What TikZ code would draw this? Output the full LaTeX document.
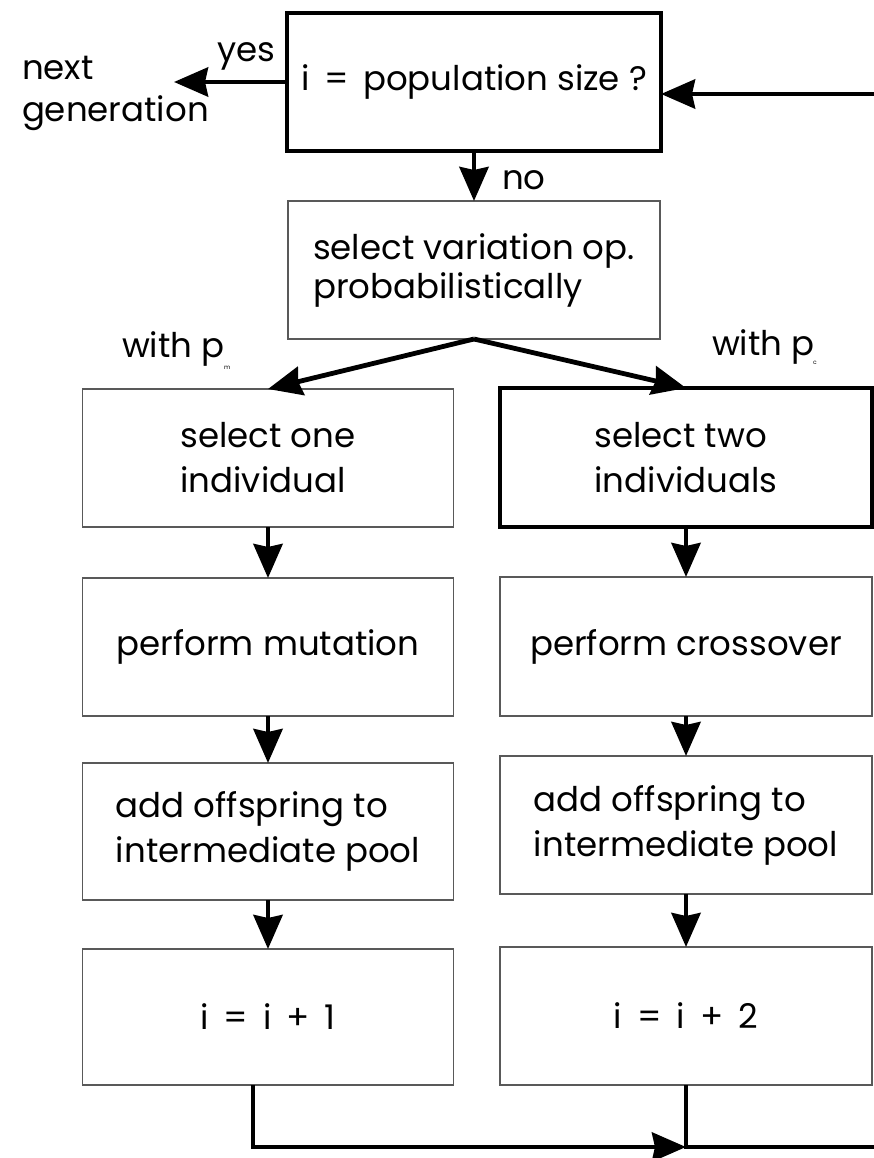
\documentclass[tikz,border=0pt]{standalone}
\usepackage{fontspec}
\setmainfont{Poppins}
\usetikzlibrary{arrows.meta}
\begin{document}
\begin{tikzpicture}[x=1pt,y=-1pt,
  every node/.style={inner sep=0pt, outer sep=0pt},
  txt/.style={font=\fontsize{34}{45}\selectfont, align=left},
  lbl/.style={font=\fontsize{34}{42}\selectfont, align=left, anchor=base west},
  sub/.style={font=\fontsize{6}{6}\selectfont, anchor=base west},
  thinbox/.style={txt, draw=black!65, line width=1.4pt, minimum width=371pt, minimum height=138pt},
  thickbox/.style={txt, draw=black, line width=4.6pt, minimum width=372pt, minimum height=138pt},
  conn/.style={line width=4.8pt, -{Stealth[length=34pt,width=29pt,inset=3pt]}},
  plain/.style={line width=4.8pt, line join=miter}
]
\fill[white] (0,0) rectangle (874,1158);
\useasboundingbox (0,0) rectangle (874,1158);

% boxes
\node[thickbox, minimum width=374pt] (t) at (474,82) {i\hspace{6pt} = \hspace{5pt}population size ?};
\node[thinbox, minimum width=372pt, font=\fontsize{34}{39}\selectfont] (v) at (474,270) {select variation op.\\probabilistically};
\node[thinbox] (l1) at (268,458) {select one\\individual};
\node[thinbox] (l2) at (268,647) {perform mutation};
\node[thinbox, minimum height=137pt] (l3) at (268,831.5) {add offspring to\\intermediate pool};
\node[thinbox, minimum height=136pt] (l4) at (268,1017) {i\hspace{6pt} = \hspace{6pt}i\hspace{6pt} + \hspace{6pt}1};
\node[thickbox, minimum height=139pt] (r1) at (686,457.5) {select two\\individuals};
\node[thinbox, minimum width=372pt, minimum height=139pt] (r2) at (686,646.5) {perform crossover};
\node[thinbox, minimum width=372pt] (r3) at (686,825) {add offspring to\\intermediate pool};
\node[thinbox, minimum width=372pt] (r4) at (686,1016) {i\hspace{6pt} = \hspace{6pt}i\hspace{6pt} + \hspace{6pt}2};

% labels
\node[lbl] (nx1) at (22,80) {next};
\node[lbl] (nx2) at (22,122) {generation};
\node[lbl] (yes) at (217,62) {yes};
\node[lbl] (no) at (502,190) {no};
\node[lbl] (wpm) at (122,357) {with p};
\node[sub] (pm) at (224,369) {m};
\node[lbl] (wpc) at (712,355) {with p};
\node[sub] (pc) at (813,364) {c};

% free ends
\coordinate (yestip) at (174,82);
\coordinate (loopin) at (880,94);
\coordinate (merge) at (686,1147);
\coordinate (exit) at (880,1147);

% connectors
\draw[conn] (t.west) -- (yestip);
\draw[conn] (loopin) -- (loopin -| t.east);
\draw[conn] (t.south) -- (v.north);
\draw[conn] (v.south) -- (l1.north);
\draw[conn] (v.south) -- (r1.north);
\draw[conn] (l1.south) -- (l2.north);
\draw[conn] (l2.south) -- (l3.north);
\draw[conn] (l3.south) -- (l4.north);
\draw[conn] (r1.south) -- (r2.north);
\draw[conn] (r2.south) -- (r3.north);
\draw[conn] (r3.south) -- (r4.north);
\draw[plain] (r4.south) -- (merge) -- (exit);
\draw[conn, line join=miter] ([xshift=-15pt]l4.south) |- (merge);
\end{tikzpicture}
\end{document}
